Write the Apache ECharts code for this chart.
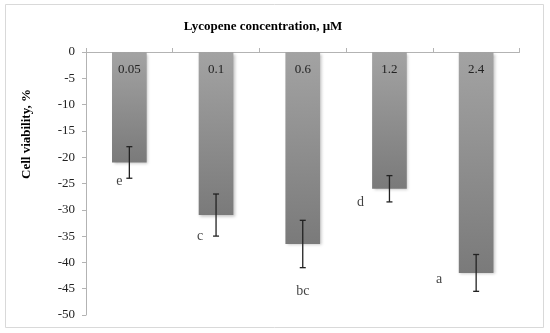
<!DOCTYPE html>
<html><head><meta charset="utf-8">
<script src="https://cdn.jsdelivr.net/npm/echarts@6/dist/echarts.min.js"></script>
<style>html,body{margin:0;padding:0;background:#fff}#c{width:550px;height:333px}</style>
</head><body><div id="c"></div>
<script>
const categories = ['0.05', '0.1', '0.6', '1.2', '2.4'];
const viability = [-21, -31, -36.5, -26, -42];
const errors = [3, 4, 4.5, 2.5, 3.5];
const letters = ['e', 'c', 'bc', 'd', 'a'];
const letterValues = [-24.5, -35, -45.5, -28.5, -43.3];
const yTicks = { min: -50, max: 0, interval: 5 };

const FONT = '"Liberation Serif", serif';
const chart = echarts.init(document.getElementById('c'), null, { renderer: 'canvas' });
const letterOffsets = [-10, -16, 0, -29, -37];

chart.setOption({
  animation: false,
  backgroundColor: '#fff',
  title: {
    text: 'Lycopene concentration, μM',
    left: 258, top: 15, textAlign: 'center',
    textStyle: { fontFamily: FONT, fontWeight: 'bold', fontSize: 13, color: '#000' }
  },
  graphic: [
    { type: 'rect', shape: { x: 5.5, y: 4.5, width: 538, height: 323 }, style: { fill: 'none', stroke: '#d9d9d9', lineWidth: 1 }, z: 0 },
    { type: 'text', x: 27, y: 134, rotation: Math.PI / 2, style: { text: 'Cell viability, %', font: 'bold 13px "Liberation Serif", serif', fill: '#000', textAlign: 'center', textVerticalAlign: 'middle' } }
  ],
  grid: { left: 86, right: 30.5, top: 52, bottom: 18 },
  xAxis: {
    type: 'category', data: categories, position: 'top',
    axisLine: { show: true, lineStyle: { color: '#b3b3b3', width: 1 } },
    axisTick: { show: true, inside: false, length: 4, lineStyle: { color: '#b3b3b3' } },
    axisLabel: { show: false },
    splitLine: { show: false }
  },
  yAxis: {
    type: 'value', min: yTicks.min, max: yTicks.max, interval: yTicks.interval,
    axisLine: { show: true, lineStyle: { color: '#b3b3b3', width: 1 } },
    axisTick: { show: true, inside: false, length: 4, lineStyle: { color: '#b3b3b3' } },
    axisLabel: { margin: 11, fontFamily: FONT, fontSize: 13, color: '#222' },
    splitLine: { show: false }
  },
  series: [
    {
      type: 'bar', data: viability, barWidth: '40%', z: 2,
      label: { show: true, position: 'insideTop', distance: 11, formatter: p => categories[p.dataIndex],
        fontFamily: FONT, fontSize: 13, color: '#222' },
      itemStyle: {
        color: new echarts.graphic.LinearGradient(0, 0, 0, 1, [
          { offset: 0, color: '#a3a3a3' }, { offset: 1, color: '#7a7a7a' }
        ]),
        shadowColor: 'rgba(0,0,0,0.25)', shadowBlur: 3, shadowOffsetX: 1.5, shadowOffsetY: 1.5
      }
    },
    {
      type: 'custom', z: 5,
      data: viability.map((v, i) => [i, v - errors[i], v + errors[i]]),
      renderItem: function (params, api) {
        const lo = api.coord([api.value(0), api.value(1)]);
        const hi = api.coord([api.value(0), api.value(2)]);
        const w = 3;
        const st = { stroke: '#222', lineWidth: 1.3 };
        return { type: 'group', children: [
          { type: 'line', shape: { x1: lo[0], y1: lo[1], x2: hi[0], y2: hi[1] }, style: st },
          { type: 'line', shape: { x1: lo[0] - w, y1: lo[1], x2: lo[0] + w, y2: lo[1] }, style: st },
          { type: 'line', shape: { x1: hi[0] - w, y1: hi[1], x2: hi[0] + w, y2: hi[1] }, style: st }
        ] };
      }
    },
    {
      type: 'scatter', symbolSize: 0, z: 6,
      data: letterValues.map((v, i) => ({
        value: [i, v],
        label: { show: true, formatter: letters[i], position: 'inside', offset: [letterOffsets[i], 0],
          fontFamily: FONT, fontSize: 14, color: '#111' }
      }))
    }
  ]
});
</script></body></html>
